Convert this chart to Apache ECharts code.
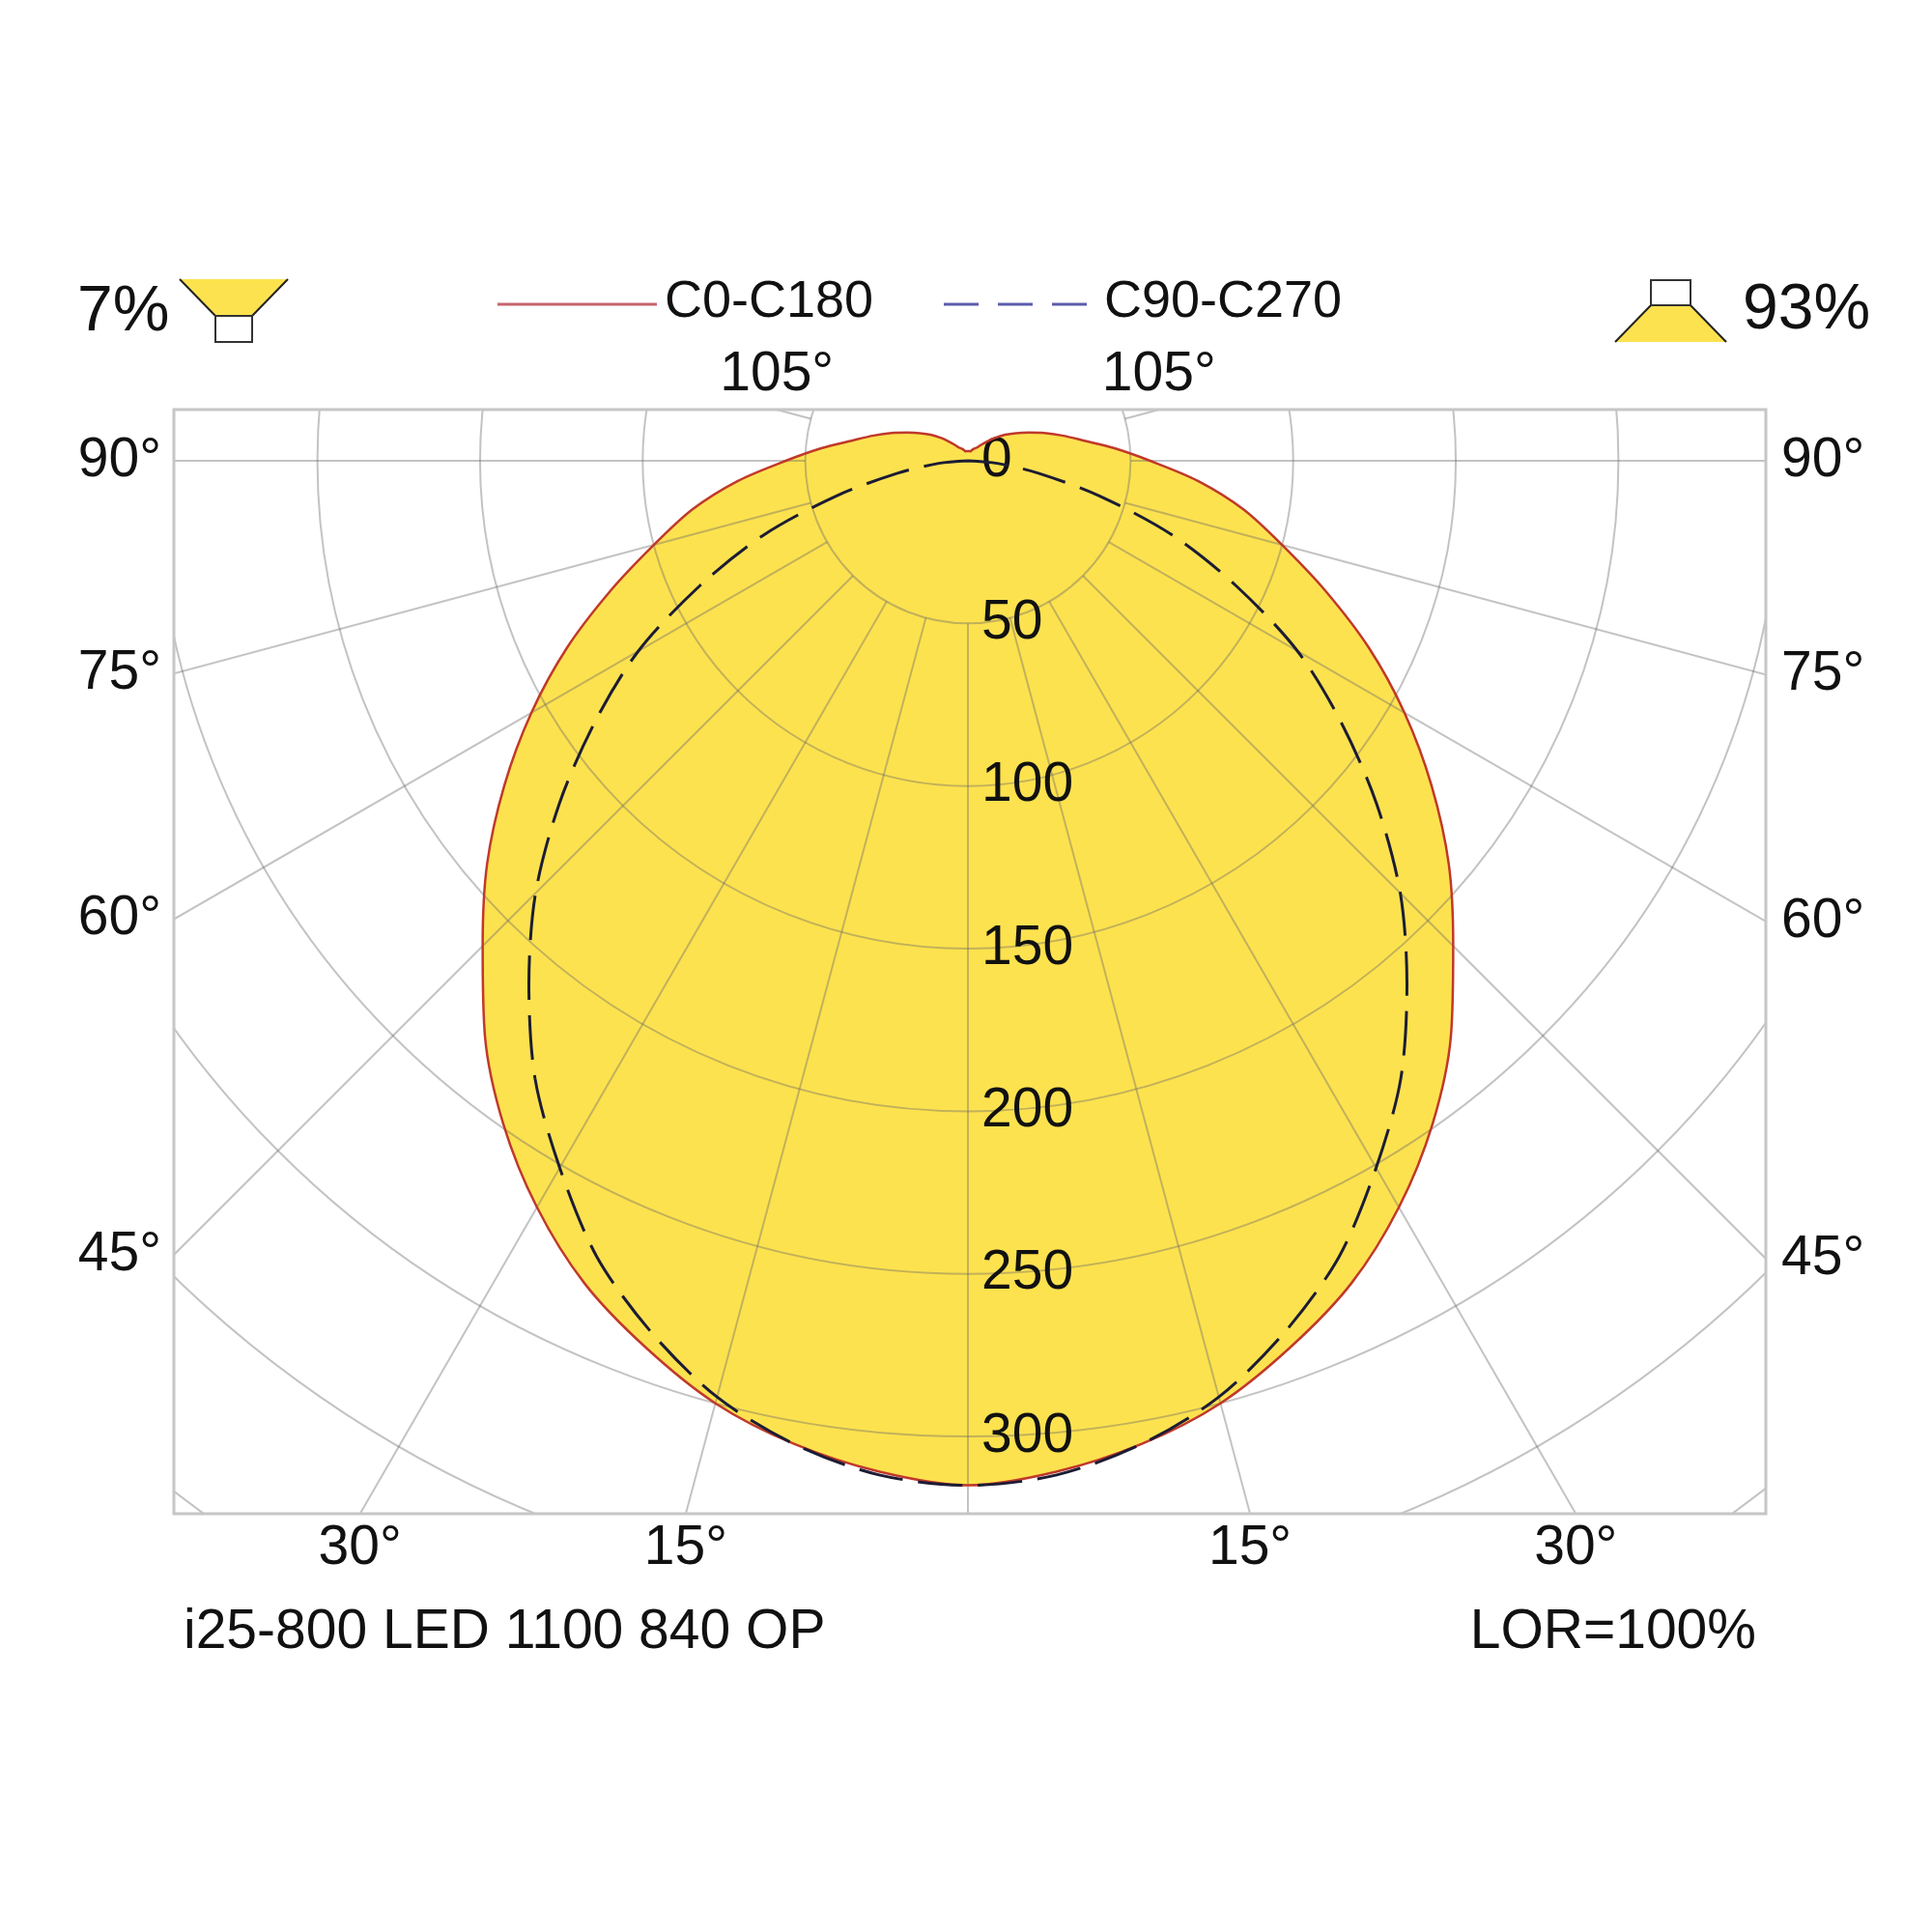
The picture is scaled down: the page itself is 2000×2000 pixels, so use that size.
<!DOCTYPE html>
<html>
<head>
<meta charset="utf-8">
<script src="https://cdn.jsdelivr.net/npm/echarts@6/dist/echarts.min.js"></script>
<style>
  html, body { margin: 0; padding: 0; background: #fff; }
  #chart { width: 2000px; height: 2000px; }
</style>
</head>
<body>
<div id="chart"></div>
<script>
// gamma angle (deg, 0 = straight down) and intensity (cd/klm)
const gammaC0 = [0, 5, 10, 15, 20, 25, 30, 35, 40, 45, 50, 55, 60, 65, 70, 75, 80, 85, 90, 95,
                 100, 105, 110, 115, 120, 125, 130, 135, 140, 145, 150, 155, 160, 165, 170, 175, 180];
const intensC0 = [315, 312, 307, 300, 290, 279, 265, 249, 231, 211, 193, 174, 155, 136, 117, 100, 86, 71, 56, 45,
                  36, 30, 25, 20.5, 17, 14, 11, 8.5, 6.5, 5, 4.5, 4, 3.5, 3, 3, 3, 3];
const gammaC90 = [0, 5, 10, 15, 20, 25, 30, 35, 40, 45, 50, 55, 60, 65, 70, 75, 80, 85, 90];
const intensC90 = [315, 313, 307, 298, 285, 270, 251, 232, 210, 188, 164, 140, 117, 91, 67, 42, 22, 9, 0];

const radiusMax = 450;
const radiusStep = 50;
const radiusLabelMax = 300;
const angleLabels = [15, 30, 45, 60, 75, 90, 105];
const planeNames = ['C0-C180', 'C90-C270'];
const upShare = '7%';
const downShare = '93%';
const lampName = 'i25-800 LED 1100 840 OP';
const lorText = 'LOR=100%';

// layout
const CX = 1002, CY = 477;
const PX_PER_CD = 3.367;
const BOX = { x0: 180, y0: 424, x1: 1828, y1: 1567 };
const FONT = 'Liberation Sans, Arial, sans-serif';
const YELLOW = '#fde24f';
const RED = '#c0392b';
const DASH = '#1c1c34';
const GRID = 'rgba(105,105,105,0.4)';

// closed loop: C180 half on the left (angle = gamma), C0 half on the right (angle = 360 - gamma)
function loop(gammas, vals) {
    const pts = [];
    for (let i = gammas.length - 1; i >= 0; i--) pts.push([vals[i], gammas[i]]);
    for (let i = 1; i < gammas.length; i++) pts.push([vals[i], 360 - gammas[i]]);
    return pts;
}

const chart = echarts.init(document.getElementById('chart'));

const hiddenAngle = {
    type: 'value', min: 0, max: 360, interval: 15, startAngle: 270, clockwise: true,
    axisLine: { show: false }, axisTick: { show: false }, axisLabel: { show: false }
};

chart.setOption({
    backgroundColor: '#fff',
    animation: false,
    polar: [
        { center: [CX, CY], radius: [0, radiusMax * PX_PER_CD] },
        { center: [CX, CY], radius: [radiusStep * PX_PER_CD, radiusMax * PX_PER_CD] }
    ],
    angleAxis: [
        Object.assign({ polarIndex: 0, splitLine: { show: false }, z: 5 }, hiddenAngle),
        Object.assign({ polarIndex: 1, splitLine: { show: true, lineStyle: { color: GRID, width: 2 } }, z: 5 }, hiddenAngle)
    ],
    radiusAxis: [
        {
            polarIndex: 0, type: 'value', min: 0, max: radiusMax, interval: radiusStep, z: 5,
            axisLine: { show: false }, axisTick: { show: false },
            splitLine: { show: true, lineStyle: { color: GRID, width: 2 } },
            axisLabel: {
                show: true, margin: 14, fontSize: 57, color: '#111', fontFamily: FONT,
                formatter: v => (v <= radiusLabelMax ? String(v) : '')
            }
        },
        {
            polarIndex: 1, type: 'value', min: radiusStep, max: radiusMax, interval: radiusStep,
            axisLine: { show: false }, axisTick: { show: false }, axisLabel: { show: false },
            splitLine: { show: false }
        }
    ],
    series: [
        {
            type: 'line', coordinateSystem: 'polar', polarIndex: 0, data: loop(gammaC0, intensC0),
            symbol: 'none', silent: true, clip: false, z: 1, smooth: 0.3,
            lineStyle: { width: 0, opacity: 0 },
            areaStyle: { color: YELLOW, opacity: 1 }
        },
        {
            name: planeNames[0], type: 'line', coordinateSystem: 'polar', polarIndex: 0,
            data: loop(gammaC0, intensC0), symbol: 'none', silent: true, clip: false, z: 10, smooth: 0.3,
            lineStyle: { color: RED, width: 2.5 }
        },
        {
            name: planeNames[1], type: 'line', coordinateSystem: 'polar', polarIndex: 0,
            data: loop(gammaC90, intensC90), symbol: 'none', silent: true, clip: false, z: 10, smooth: 0.3,
            lineStyle: { color: DASH, width: 3, type: [46, 16] }
        }
    ]
});

// where each spoke leaves the frame
function spokeHit(gamma, side) {
    const c = chart.convertToPixel({ seriesIndex: 1 }, [0, 0]);
    const p = chart.convertToPixel({ seriesIndex: 1 }, [400, side < 0 ? gamma : 360 - gamma]);
    const dx = p[0] - c[0], dy = p[1] - c[1];
    let t = Infinity, edge = null;
    const test = (tt, e) => { if (tt > 0 && tt < t) { t = tt; edge = e; } };
    if (dx < -1e-6) test((BOX.x0 - c[0]) / dx, 'left');
    if (dx > 1e-6) test((BOX.x1 - c[0]) / dx, 'right');
    if (dy > 1e-6) test((BOX.y1 - c[1]) / dy, 'bottom');
    if (dy < -1e-6) test((BOX.y0 - c[1]) / dy, 'top');
    return { x: c[0] + dx * t, y: c[1] + dy * t, edge };
}

function txt(s, x, y, align, size, vAlign) {
    return {
        type: 'text', x: x, y: y, z: 80, silent: true,
        style: {
            text: s, fill: '#111', font: (size || 57) + 'px ' + FONT,
            align: align, verticalAlign: vAlign || 'middle',
            textAlign: align, textVerticalAlign: vAlign || 'middle'
        }
    };
}

const g = [];
// white mask outside the plot frame
[[0, 0, 2000, BOX.y0], [0, BOX.y1, 2000, 2000 - BOX.y1], [0, 0, BOX.x0, 2000], [BOX.x1, 0, 2000 - BOX.x1, 2000]]
    .forEach(r => g.push({ type: 'rect', z: 50, silent: true,
        shape: { x: r[0], y: r[1], width: r[2], height: r[3] }, style: { fill: '#fff' } }));
g.push({ type: 'rect', z: 60, silent: true,
    shape: { x: BOX.x0, y: BOX.y0, width: BOX.x1 - BOX.x0, height: BOX.y1 - BOX.y0 },
    style: { fill: 'none', stroke: '#c6c6c6', lineWidth: 3 } });

angleLabels.forEach(a => {
    [-1, 1].forEach(side => {
        const h = spokeHit(a, side);
        const s = a + '°';
        if (h.edge === 'left') g.push(txt(s, h.x - 13, h.y, 'right'));
        else if (h.edge === 'right') g.push(txt(s, h.x + 16, h.y, 'left'));
        else if (h.edge === 'bottom') g.push(txt(s, h.x, h.y + 36, 'center'));
        else if (h.edge === 'top') g.push(txt(s, h.x, h.y - 36, 'center'));
    });
});

// legend
g.push({ type: 'line', z: 80, shape: { x1: 515, y1: 315, x2: 680, y2: 315 },
    style: { stroke: '#c8646e', lineWidth: 3 } });
g.push(txt(planeNames[0], 688, 313, 'left', 54));
g.push({ type: 'line', z: 80, shape: { x1: 977, y1: 315, x2: 1136, y2: 315 },
    style: { stroke: '#5c5cac', lineWidth: 3, lineDash: [36, 20] } });
g.push(txt(planeNames[1], 1143, 313, 'left', 54));

// up / down flux icons
g.push(txt(upShare, 80, 324, 'left', 66));
g.push({ type: 'polygon', z: 80, shape: { points: [[186, 289], [298, 289], [261, 327], [223, 327]] },
    style: { fill: YELLOW } });
g.push({ type: 'polyline', z: 81, shape: { points: [[186, 289], [223, 327]] }, style: { stroke: '#222', lineWidth: 2 } });
g.push({ type: 'polyline', z: 81, shape: { points: [[298, 289], [261, 327]] }, style: { stroke: '#222', lineWidth: 2 } });
g.push({ type: 'rect', z: 81, shape: { x: 223, y: 327, width: 38, height: 27 },
    style: { fill: '#fff', stroke: '#333', lineWidth: 2 } });

g.push(txt(downShare, 1804, 322, 'left', 66));
g.push({ type: 'rect', z: 81, shape: { x: 1709, y: 290, width: 41, height: 26 },
    style: { fill: '#fff', stroke: '#333', lineWidth: 2 } });
g.push({ type: 'polygon', z: 80, shape: { points: [[1709, 316], [1750, 316], [1787, 354], [1672, 354]] },
    style: { fill: YELLOW } });
g.push({ type: 'polyline', z: 81, shape: { points: [[1709, 316], [1672, 354]] }, style: { stroke: '#222', lineWidth: 2 } });
g.push({ type: 'polyline', z: 81, shape: { points: [[1750, 316], [1787, 354]] }, style: { stroke: '#222', lineWidth: 2 } });

// footer
g.push(txt(lampName, 190, 1690, 'left', 57));
g.push(txt(lorText, 1818, 1690, 'right', 57));

chart.setOption({ graphic: { elements: g } });
</script>
</body>
</html>
